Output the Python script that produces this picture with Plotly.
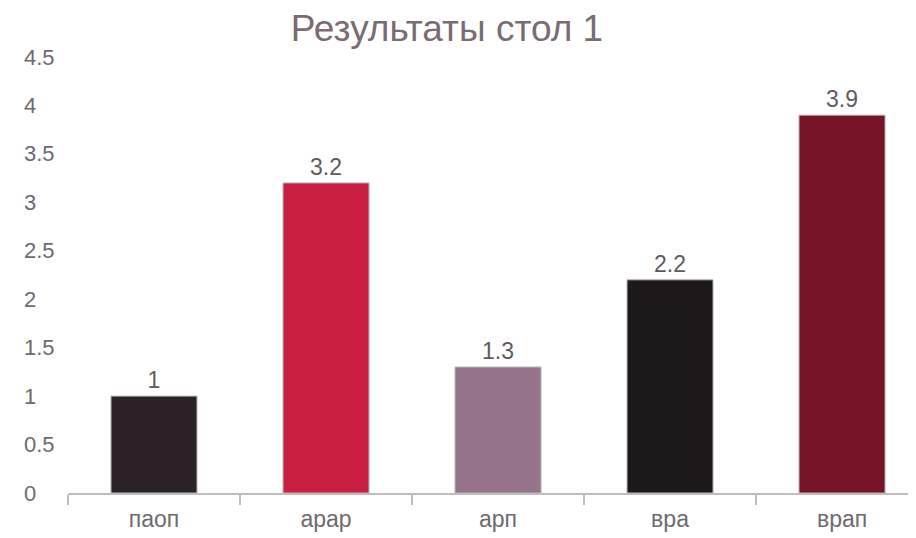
import plotly.graph_objects as go

categories = ["паоп", "арар", "арп", "вра", "врап"]
values = [1, 3.2, 1.3, 2.2, 3.9]
bar_colors = ["#2b2129", "#c91f40", "#94738b", "#1d181a", "#761327"]
y_ticks = [0, 0.5, 1, 1.5, 2, 2.5, 3, 3.5, 4, 4.5]
y_tick_labels = ["0", "0.5", "1", "1.5", "2", "2.5", "3", "3.5", "4", "4.5"]
title_text = "Результаты стол 1"

# page body adds an 8px offset, so the figure is sized to the visible area
W, H = 908, 530
ML, MR, MT, MB = 60, 0, 49, 45
FONT = "Liberation Sans, Arial, sans-serif"

fig = go.Figure()
fig.add_trace(go.Bar(
    x=categories,
    y=values,
    width=0.5,
    marker=dict(color=bar_colors, line=dict(color="#b5b5b5", width=1)),
    text=[str(v) for v in values],
    textposition="outside",
    textfont=dict(family=FONT, size=23, color="#5f5a5e"),
    cliponaxis=False,
))

annotations = []
for v, lab in zip(y_ticks, y_tick_labels):
    annotations.append(dict(
        x=(14 - ML) / (W - ML - MR), xref="paper", xanchor="left",
        y=v, yref="y", yanchor="middle",
        text=lab, showarrow=False,
        font=dict(family=FONT, size=22, color="#6e696e"),
    ))

fig.update_layout(
    width=W, height=H,
    margin=dict(l=ML, r=MR, t=MT, b=MB, pad=0),
    paper_bgcolor="white", plot_bgcolor="white",
    showlegend=False,
    title=dict(
        text=title_text, x=439 / W, xanchor="center", y=1 - 20 / H, yanchor="middle",
        font=dict(family=FONT, size=37, color="#7a6b74"),
    ),
    annotations=annotations,
    bargap=0.5,
)
fig.update_xaxes(
    range=[-0.5, 4.43],
    showline=True, linecolor="#bdbdbd", linewidth=2,
    ticks="outside", tickson="boundaries", ticklen=10, tickcolor="#bdbdbd", tickwidth=2,
    tickfont=dict(family=FONT, size=23, color="#6e696e"),
    ticklabelstandoff=4,
    showgrid=False, zeroline=False, fixedrange=True,
)
fig.update_yaxes(
    range=[0, 4.5], showticklabels=False, showgrid=False, zeroline=False,
    showline=False, ticks="", fixedrange=True,
)

fig.write_html("out.html", config={"displayModeBar": False})
